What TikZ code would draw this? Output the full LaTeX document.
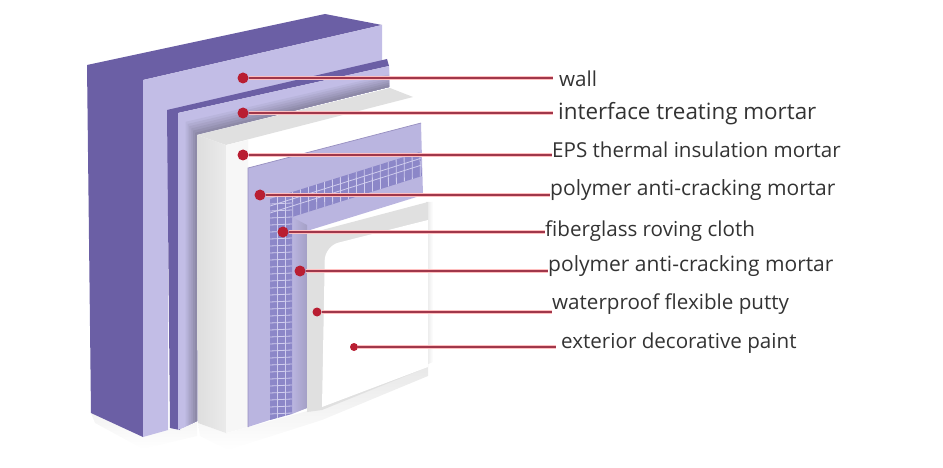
\documentclass[tikz,border=0pt]{standalone}
\usepackage{fontspec}
\setmainfont{Open Sans}
\usetikzlibrary{positioning, shapes.geometric}
\definecolor{walldark}{RGB}{107,95,165}
\definecolor{walllight}{RGB}{194,189,230}
\definecolor{coatlight}{RGB}{186,181,224}
\definecolor{layergray}{RGB}{224,224,224}
\definecolor{meshblue}{RGB}{140,135,200}
\definecolor{meshline}{RGB}{208,205,238}
\definecolor{leadred}{RGB}{160,55,75}
\definecolor{dotred}{RGB}{185,30,50}
\tikzstyle{marker} = [circle, fill=dotred, minimum size=11pt, inner sep=0pt]
\tikzstyle{tag} = [anchor=west, inner ysep=0pt, inner xsep=0pt, text=black!80, font=\fontsize{20.6}{24}\selectfont]
\tikzstyle{leader} = [draw=leadred, line width=1.8pt, preaction={draw=red!25, line width=3.6pt}]
\tikzstyle{meshwire} = [draw=meshline, line width=0.8pt]

\begin{document}
\begin{tikzpicture}[x=1pt, y=-1pt]
		\useasboundingbox (0,0) rectangle (943,468);
		
		% Floor shadow
		\shade [top color=black!9, bottom color=white] (198,423) -- (227,433) -- (322,407) -- (428,367) -- (428,376) -- (322,420) -- (228,450) -- (200,436) -- cycle;
		\shade [top color=black!5, bottom color=white] (91,413) -- (143,437) -- (197,421) -- (197,436) -- (143,449) -- (95,423) -- cycle;
		
		% Wall
		\fill [walldark] (87,65) -- (325,14) -- (382,25) -- (143,80) -- (143,437) -- (91,413) -- cycle;
		\fill [walllight] (143,80) -- (382,25) -- (382,62) -- (168,112) -- (168,430) -- (143,437) -- cycle;
		
		% Interface mortar
		\fill [walldark] (167,110) -- (387,59) -- (389,66) -- (178,113) -- (180,430) -- (170,428) -- cycle;
		\foreach \t in {0,1,...,10} {
			\pgfmathsetmacro{\cx}{178+1.9*\t}
			\pgfmathsetmacro{\cy}{113+2.2*\t}
			\pgfmathsetmacro{\ry}{66+2.1*\t}
			\pgfmathsetmacro{\mix}{\t<3 ? 100 : 100-6*(\t-3)}
			\fill [walllight!\mix!black!75!walllight] (\cx,\cy) -- (389,\ry) -- (389,87) -- (197,135) -- (197,421) -- (\cx,{430-.9*\t}) -- cycle;
		}
		
		% EPS board
		\fill [white] (197,135) -- (390,88) -- (420,97) -- (420,330) -- (247,427) -- (226,433) -- (198,423) -- cycle;
		\fill [layergray] (197,135) -- (390,88) -- (413,97) -- (226,145) -- cycle;
		\shade [left color=black!13, right color=black!8] (197,135) -- (226,145) -- (226,433) -- (198,423) -- cycle;
		\fill [black!3] (226,145) -- (248,140) -- (248,427) -- (226,433) -- cycle;
		
		% Polymer coat
		\fill [coatlight] (248,168) -- (421,123) -- (423,195) -- (310,230) -- (307,408) -- (248,427) -- cycle;
		\draw [walldark!70, line width=0.7pt] (248,427) -- (248,168) -- (421,123);
		\shade [left color=coatlight, right color=black!12!coatlight] (292,217) -- (307,225) -- (307,408) -- (292,414) -- cycle;
		
		% Fiberglass mesh
		\begin{scope}
			\clip (270,199) -- (420,152) -- (422,176) -- (292,217) -- (292,414) -- (270,420) -- cycle;
			\fill [meshblue] (260,150) rectangle (430,425);
			\foreach \y in {204,211,...,421} {
				\draw [meshwire] (270,\y) -- (292,\y-1);
			}
			\foreach \x in {277,285} {
				\draw [meshwire] (\x,190) -- (\x,425);
			}
			\foreach \s in {7,14} {
				\draw [meshwire] (270,199+\s) -- (425,150+\s);
			}
			\foreach \x in {292,300,...,424} {
				\draw [meshwire] (\x,150) -- (\x+1,230);
			}
		\end{scope}
		
		% Putty and paint
		\shade [left color=black!10, right color=white] (426,202) -- (433,202) -- (433,362) -- (426,365) -- cycle;
		\fill [layergray] (307,234) -- (428,202) -- (428,367) -- (322,410) -- (307,412) -- cycle;
		\fill [white] (322,407) [rounded corners=14pt] -- (325,246) [sharp corners] -- (428,220) -- (428,367) -- cycle;
		
		% Nodes
		\node (wallmark) [marker] at (243,78) {};
		\node (interfacemark) [marker] at (243,113) {};
		\node (epsmark) [marker] at (243,155) {};
		\node (polymermark) [marker] at (260,195) {};
		\node (fibermark) [marker] at (283,232) {};
		\node (coatmark) [marker] at (300,271) {};
		\node (puttymark) [marker, minimum size=9pt] at (317,312) {};
		\node (paintmark) [marker, minimum size=8pt] at (354,347) {};
		
		\node (walllabel) [tag, inner xsep=6pt] at (553,79) {wall};
		\node (interfacelabel) [tag, inner xsep=5pt, font=\fontsize{22.4}{26}\selectfont] at (553,114) {interface treating mortar};
		\node (epslabel) [tag] at (552,150) {EPS thermal insulation mortar};
		\node (polymerlabel) [tag, font=\fontsize{21}{24}\selectfont] at (550,190) {polymer anti-cracking mortar};
		\node (fiberlabel) [tag] at (545,231) {fiberglass roving cloth};
		\node (coatlabel) [tag, font=\fontsize{21}{24}\selectfont] at (548,266) {polymer anti-cracking mortar};
		\node (puttylabel) [tag] at (552,304) {waterproof flexible putty};
		\node (paintlabel) [tag, inner xsep=5pt] at (556,343) {exterior decorative paint};
		
		% Arrows
		\draw [leader] (wallmark) -- (wallmark -| walllabel.west);
		\draw [leader] (interfacemark) -- (interfacemark -| interfacelabel.west);
		\draw [leader] (epsmark) -- (epsmark -| epslabel.west);
		\draw [leader] (polymermark) -- (polymermark -| polymerlabel.west);
		\draw [leader] (fibermark) -- (fibermark -| fiberlabel.west);
		\draw [leader] (coatmark) -- (coatmark -| coatlabel.west);
		\draw [leader] (puttymark) -- (puttymark -| puttylabel.west);
		\draw [leader] (paintmark) -- (paintmark -| paintlabel.west);
		
	\end{tikzpicture}
\end{document}
